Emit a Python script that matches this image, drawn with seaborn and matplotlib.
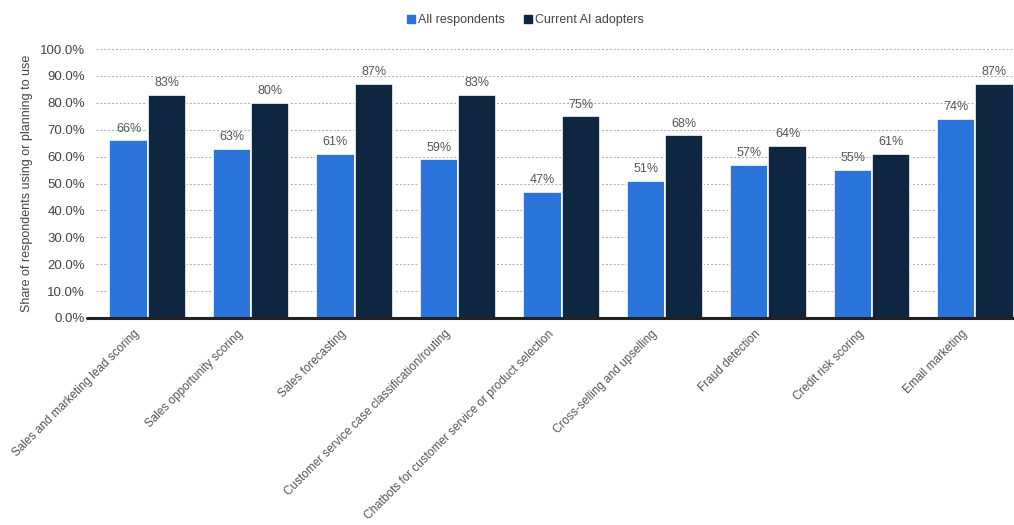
import matplotlib.pyplot as plt
import matplotlib.transforms as mtransforms
import seaborn as sns
import pandas as pd
from matplotlib.ticker import FuncFormatter
from matplotlib.lines import Line2D

categories = ['Sales and marketing lead scoring', 'Sales opportunity scoring',
              'Sales forecasting', 'Customer service case classification/routing',
              'Chatbots for customer service or product selection',
              'Cross-selling and upselling', 'Fraud detection',
              'Credit risk scoring', 'Email marketing']
all_resp = [66, 63, 61, 59, 47, 51, 57, 55, 74]
ai_adopters = [83, 80, 87, 83, 75, 68, 64, 61, 87]
series = ['All respondents', 'Current AI adopters']
colors = ['#2a74dc', '#0f2640']

df = pd.DataFrame({
    'category': categories * 2,
    'value': all_resp + ai_adopters,
    'group': [series[0]] * len(categories) + [series[1]] * len(categories),
})

sns.set_style('white')
plt.rcParams['font.family'] = ['Liberation Sans', 'DejaVu Sans']

fig = plt.figure(figsize=(10.14, 5.25), dpi=100)
ax = fig.add_axes([96 / 1014, 1 - 318 / 525, 931 / 1014, 269 / 525])

sns.barplot(data=df, x='category', y='value', hue='group', palette=colors,
            saturation=1, width=0.74, edgecolor='white', linewidth=1.2,
            ax=ax, legend=False)

for c in ax.containers:
    ax.bar_label(c, fmt='%.0f%%', padding=4, fontsize=9, color='#555555')

ax.set_ylim(0, 100)
ax.set_yticks(range(0, 101, 10))
ax.yaxis.set_major_formatter(FuncFormatter(lambda v, p: f'{v:.1f}%'))
ax.grid(axis='y', linestyle=(0, (2, 2)), color='#aaaaaa', linewidth=0.7)
ax.set_axisbelow(True)
for s in ['top', 'right', 'left', 'bottom']:
    ax.spines[s].set_visible(False)
# thick baseline reaching a bit left of the plot
base = Line2D([-0.0097, 1], [0, 0], transform=ax.transAxes, color='#222222',
              linewidth=2.2, clip_on=False, zorder=5)
ax.add_artist(base)
ax.set_xlim(-0.5, len(categories) - 0.5)

ax.tick_params(axis='y', labelsize=9.5, labelcolor='#444444', length=0, pad=8)
ax.tick_params(axis='x', labelsize=8.5, labelcolor='#555555', length=0, pad=2)
ax.set_xticks(range(len(categories)))
ax.set_xticklabels(categories, rotation=45, ha='right', va='top',
                   rotation_mode='anchor')
shift = mtransforms.ScaledTranslation(-14 / 100, -7 / 100, fig.dpi_scale_trans)
for lbl in ax.get_xticklabels():
    lbl.set_transform(lbl.get_transform() + shift)
ax.set_xlabel('')
ax.set_ylabel('Share of respondents using or planning to use', fontsize=9,
              color='#444444', labelpad=5)

handles = [Line2D([], [], marker='s', linestyle='', color=c, markersize=5.5) for c in colors]
fig.legend(handles, series, loc='center', bbox_to_anchor=(0.517, 0.962), ncol=2,
           frameon=False, fontsize=9, handletextpad=0.05, handlelength=1.0,
           columnspacing=1.4, labelcolor='#444444')

fig.savefig('out.png', dpi=100)
